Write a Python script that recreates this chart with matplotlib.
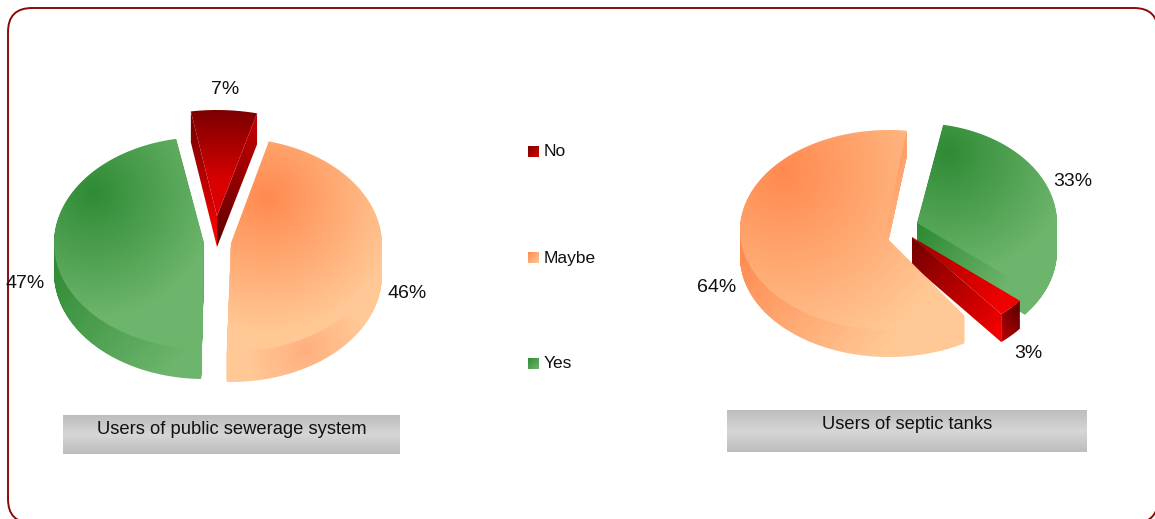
import numpy as np
import matplotlib
matplotlib.use("Agg")
import matplotlib.pyplot as plt
from matplotlib.colors import LinearSegmentedColormap
from matplotlib.patches import FancyBboxPatch, PathPatch
from matplotlib.path import Path

plt.rcParams['font.family'] = ['Liberation Sans', 'DejaVu Sans']

# Data
categories = ["No", "Maybe", "Yes"]
sewerage_values = [7, 46, 47]
septic_values = [3, 64, 33]
sewerage_title = "Users of public sewerage system"
septic_title = "Users of septic tanks"

GREEN = ("#2f8b35", "#6db56c")
ORANGE = ("#ff8a50", "#ffc895")
TEXT = '#111111'


def cmap_of(colours):
    return LinearSegmentedColormap.from_list("g", list(colours))


def fill(ax, verts_list, colours, p0, p1=None, radius=None):
    # gradient image clipped to a path, linear (p0->p1) or radial (p0, radius)
    codes, verts = [], []
    for v in verts_list:
        verts.extend(v)
        verts.append(v[0])
        codes.extend([Path.MOVETO] + [Path.LINETO] * (len(v) - 1) + [Path.CLOSEPOLY])
    path = Path(np.array(verts), codes)
    x0, y0 = np.floor(path.vertices.min(axis=0)) - 1
    x1, y1 = np.ceil(path.vertices.max(axis=0)) + 1
    xx, yy = np.meshgrid(np.arange(x0, x1 + 1), np.arange(y0, y1 + 1))
    if radius is not None:
        t = np.hypot(xx - p0[0], yy - p0[1]) / radius
    else:
        dx, dy = p1[0] - p0[0], p1[1] - p0[1]
        t = ((xx - p0[0]) * dx + (yy - p0[1]) * dy) / (dx * dx + dy * dy)
    im = ax.imshow(np.clip(t, 0, 1), cmap=cmap_of(colours), vmin=0, vmax=1,
                   extent=(x0 - .5, x1 + .5, y1 + .5, y0 - .5), aspect='auto',
                   interpolation='bilinear', zorder=2)
    im.set_clip_path(PathPatch(path, transform=ax.transData))


def arc(centre, rx, ry, a0, a1):
    # angles in degrees, clockwise from 12 o'clock
    a = np.radians(np.linspace(a0, a1, max(int(abs(a1 - a0)) * 2, 4)))
    return np.column_stack([centre[0] + rx * np.sin(a), centre[1] - ry * np.cos(a)])


def wedge(tip, centre, rx, ry, a0, a1):
    return np.vstack([[tip], arc(centre, rx, ry, a0, a1)])


def walls(shape, depth):
    return [shape + [0, d] for d in range(1, depth + 1)]


def spans(values, start):
    edges = start + np.cumsum([0] + list(values)) * 3.6
    return edges[:-1], edges[1:]


fig = plt.figure(figsize=(11.55, 5.19), dpi=100, facecolor='white')
ax = fig.add_axes([0, 0, 1, 1])

# frame
ax.add_patch(FancyBboxPatch((8, 8), 1150, 515, boxstyle="round,pad=0,rounding_size=24",
                            fc='white', ec='#8b0a0a', lw=1.4, zorder=1))

# left pie
a0, a1 = spans(sewerage_values, -10.7)
tip = (217, 216)
shape = wedge(tip, tip, 160, 106, a0[0] + 1.3, a1[0])
e0, e1 = shape[1], shape[-1]
d = np.array([0, 31])
fill(ax, [[tip, e0, e0 + d, tip + d]], ("#7a0000", "#ff0000"), (195, 125), (217, 240))
fill(ax, [[tip, e1, e1 + d, tip + d]], ("#c00000", "#600000"), (252, 125), (217, 245))
fill(ax, [shape], ("#7a0000", "#d80000"), (217, 110), (217, 180))

shape = wedge((231, 243), (231, 245), 151, 107, a0[1], a1[1] + 1.5)
fill(ax, walls(shape, 30), ("#ffb07f", "#ffc895"), (305, 350), radius=60)
fill(ax, [shape], ORANGE, (267, 197), radius=135)

shape = wedge((204, 243), (204, 243), 150, 106, a0[2] + 1, a1[2])
fill(ax, walls(shape, 30), GREEN, (54, 260), (170, 370))
fill(ax, [shape], GREEN, (93, 193), radius=125)

# right pie, slices run No, Maybe, Yes clockwise from the lower right
a0, a1 = spans(septic_values, 129.6 - 360)

shape = wedge((917, 223), (917, 223), 140, 100, a0[2], a1[2])
fill(ax, walls(shape, 28), GREEN, (917, 232), (1005, 290))
fill(ax, [shape], GREEN, (947, 153), radius=125)

tip = np.array((912, 237))
shape = wedge(tip, tip, 140, 100, a0[0], a1[0])
outer = arc(tip, 140, 100, a0[0], a1[0])
d = np.array([0, 28])
fill(ax, [[tip, shape[-1], shape[-1] + d, tip + d]], ("#7a0000", "#f00000"), (912, 250), (998, 330))
fill(ax, [np.vstack([outer, (outer + d)[::-1]])], ("#b00000", "#6a0000"), (998, 330), (1019, 315))
fill(ax, [shape], ("#a00000", "#f00000"), (912, 237), (1005, 300))

shape = wedge((884, 235), (889, 230), 149, 100, a0[1] + 9, a1[1] - 4)
fill(ax, walls(shape, 27), ORANGE, (745, 240), (880, 355))
fill(ax, [shape], ORANGE, (783, 173), radius=190)

# percent labels
label_kw = dict(fontsize=14, ha='center', va='center', color=TEXT, zorder=4)
ax.text(225, 89, "%d%%" % sewerage_values[0], **label_kw)
ax.text(407, 294, "%d%%" % sewerage_values[1], **label_kw)
ax.text(25, 284, "%d%%" % sewerage_values[2], **label_kw)
ax.text(1028, 353, "%d%%" % septic_values[0], **label_kw)
ax.text(717, 287, "%d%%" % septic_values[1], **label_kw)
ax.text(1073, 182, "%d%%" % septic_values[2], **label_kw)

# legend
swatches = [("#7a0000", "#d80000"), ORANGE, GREEN]
for name, y, cols in zip(categories, [146, 252, 358], swatches):
    box = [(528, y), (539, y), (539, y + 11), (528, y + 11)]
    fill(ax, [box], cols, (528, y), (539, y + 11))
    ax.text(544, y + 6, name, fontsize=12.5, va='center', color=TEXT, zorder=4)

# chart titles on grey bars
grey = LinearSegmentedColormap.from_list("grey", ["#bdbdbd", "#d6d6d6", "#bdbdbd"])
for (x0, y0, x1, y1), title, ty in [((63, 415, 400, 454), sewerage_title, 429.5),
                                    ((727, 410, 1087, 452), septic_title, 424.5)]:
    ax.imshow(np.linspace(0, 1, 64)[:, None], cmap=grey, extent=(x0, x1, y1, y0),
              aspect='auto', zorder=2)
    ax.text((x0 + x1) / 2, ty, title, fontsize=13.2, ha='center', va='center',
            color=TEXT, zorder=4)

ax.set_xlim(0, 1155)
ax.set_ylim(519, 0)
ax.axis('off')
fig.savefig('out.png', dpi=100)
